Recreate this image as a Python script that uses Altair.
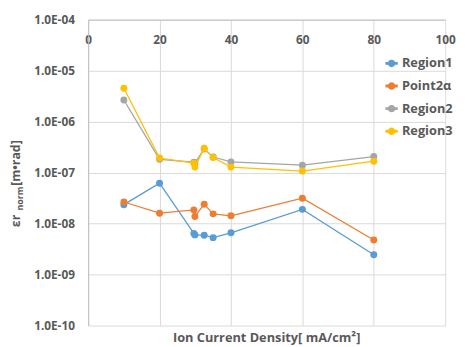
import altair as alt
import pandas as pd

# ---- data ----
x_vals = [10, 20, 29.6, 29.9, 32.5, 35, 40, 60, 80]
region1 = [2.35e-8, 6.2e-8, 6.4e-9, 6.0e-9, 5.9e-9, 5.3e-9, 6.6e-9, 1.9e-8, 2.45e-9]
point2a = [2.65e-8, 1.6e-8, 1.85e-8, 1.38e-8, 2.4e-8, 1.55e-8, 1.42e-8, 3.15e-8, 4.75e-9]
region2 = [2.65e-6, 1.82e-7, 1.6e-7, 1.55e-7, 2.9e-7, 2.02e-7, 1.62e-7, 1.4e-7, 2.06e-7]
region3 = [4.5e-6, 1.93e-7, 1.53e-7, 1.28e-7, 3.0e-7, 1.97e-7, 1.28e-7, 1.07e-7, 1.67e-7]
series_names = ["Region1", "Point2α", "Region2", "Region3"]
colors = ["#5B9BD5", "#ED7D31", "#A5A5A5", "#FFC000"]
x_ticks = [0, 20, 40, 60, 80, 100]
y_ticks = [1e-10, 1e-9, 1e-8, 1e-7, 1e-6, 1e-5, 1e-4]
x_title = "Ion Current Density[ mA/cm²]"
y_title_main = "εr"
y_title_sub = "norm"
y_title_unit = "[m•rad]"

rows = []
for name, vals in zip(series_names, [region1, point2a, region2, region3]):
    for i, (xv, yv) in enumerate(zip(x_vals, vals)):
        rows.append({"series": name, "x": xv, "v": yv, "idx": i})
df = pd.DataFrame(rows)

FONT = "Open Sans"
TXT = "#595959"
W, H = 363, 311

x_enc = alt.X(
    "x:Q",
    scale=alt.Scale(domain=[0, 100], nice=False, zero=False),
    axis=alt.Axis(
        orient="top", values=x_ticks, title=None, ticks=False,
        labelPadding=-20, labelBaseline="middle", labelFont=FONT,
        labelFontSize=12, labelFontWeight="bold", labelColor=TXT,
        grid=True, gridColor="#d9d9d9", domainColor="#bfbfbf",
        labelFlush=False, labelOverlap=False,
    ),
)
y_enc = alt.Y(
    "v:Q",
    scale=alt.Scale(type="log", domain=[1e-10, 1e-4], nice=False),
    axis=alt.Axis(
        values=y_ticks, title=None, ticks=False, labelPadding=14,
        labelExpr="'1.0E-' + (datum.value >= 1e-9 ? '0' : '') + format(-round(log(datum.value)/LN10), 'd')",
        labelFont=FONT, labelFontSize=12, labelFontWeight="bold",
        labelColor=TXT, grid=True, gridColor="#d9d9d9",
        domainColor="#bfbfbf", labelOverlap=False,
    ),
)
sym = ("M-1,-0.13 L1,-0.13 L1,0.13 L-1,0.13 Z "
       "M0.55,0 A0.55,0.55 0 1,1 -0.55,0 A0.55,0.55 0 1,1 0.55,0 Z")
color_enc = alt.Color(
    "series:N",
    scale=alt.Scale(domain=series_names, range=colors),
    legend=alt.Legend(
        orient="none", legendX=302, legendY=38, title=None,
        labelFont=FONT, labelFontSize=13, labelFontWeight="bold",
        labelColor=TXT, symbolType=sym, symbolSize=121, rowPadding=9,
        padding=0, labelOffset=4,
    ),
)

base = alt.Chart(df)
layers = []
for s in series_names:
    sub = base.transform_filter(alt.datum.series == s)
    layers.append(
        sub.mark_line(strokeWidth=1.3).encode(
            x=x_enc, y=y_enc, color=color_enc, order="idx:Q"
        )
    )
    layers.append(
        sub.mark_point(filled=True, size=50, opacity=1).encode(
            x=x_enc, y=y_enc, color=color_enc
        )
    )


def txt(t, x, y, size, angle=0, align="center", baseline="middle"):
    return alt.Chart(pd.DataFrame({"t": [t]})).mark_text(
        font=FONT, fontSize=size, fontWeight="bold", color=TXT,
        angle=angle, align=align, baseline=baseline,
    ).encode(x=alt.value(x), y=alt.value(y), text="t:N")


texts = [
    txt(x_title, W / 2, 324, 13),
    txt(y_title_main, -73, 211, 12.5, angle=270, align="left"),
    txt(y_title_sub, -69.5, 194, 9, angle=270, align="left"),
    txt(y_title_unit, -73, 169, 12.5, angle=270, align="left"),
]

chart = alt.layer(*layers, *texts).properties(
    width=W, height=H,
    autosize=alt.AutoSizeParams(type="none"),
    padding={"left": 81.5, "top": 9, "right": 12, "bottom": 20},
).configure_view(stroke=None)

chart.save("out.html", embed_options={"renderer": "svg", "actions": False})
